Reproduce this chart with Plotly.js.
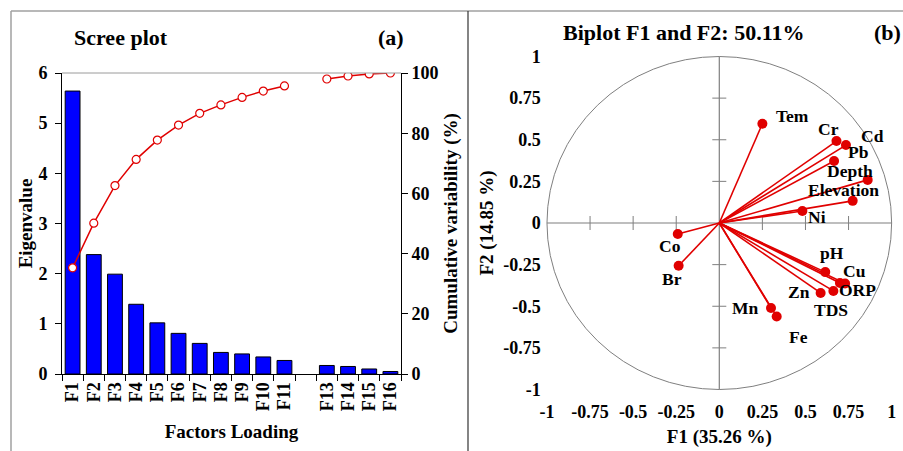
<!DOCTYPE html>
<html>
<head>
<meta charset="utf-8">
<script src="https://cdn.plot.ly/plotly-3.0.1.min.js"></script>
<style>html,body{margin:0;padding:0;background:#fff;}#chart{width:903px;height:451px;}</style>
</head>
<body>
<div id="chart"></div>
<script>
// ---- Data: scree plot ----
const factors = ['F1','F2','F3','F4','F5','F6','F7','F8','F9','F10','F11','F12','F13','F14','F15','F16'];
const factorLabels = ['F1','F2','F3','F4','F5','F6','F7','F8','F9','F10','F11','','F13','F14','F15','F16'];
const eigenvalues = [5.64, 2.38, 1.99, 1.39, 1.02, 0.81, 0.61, 0.43, 0.40, 0.34, 0.27, null, 0.17, 0.15, 0.10, 0.05];
const cumulative = [35.26, 50.11, 62.6, 71.3, 77.7, 82.7, 86.6, 89.4, 91.9, 94.0, 95.7, null, 98.0, 99.0, 99.7, 100];
const eigTicks = [0, 1, 2, 3, 4, 5, 6];
const cumTicks = [0, 20, 40, 60, 80, 100];

// ---- Data: biplot loadings ----
const variables = ['Tem','Cr','Cd','Pb','Depth','Elevation','Ni','Co','Br','pH','Cu','ORP','Zn','TDS','Mn','Fe'];
const f1Load = [0.25, 0.68, 0.735, 0.666, 0.861, 0.774, 0.482, -0.241, -0.236, 0.615, 0.70, 0.73, 0.588, 0.662, 0.30, 0.333];
const f2Load = [0.596, 0.492, 0.468, 0.372, 0.259, 0.133, 0.072, -0.066, -0.257, -0.295, -0.36, -0.363, -0.42, -0.408, -0.51, -0.562];
const biTicks = [-1, -0.75, -0.5, -0.25, 0, 0.25, 0.5, 0.75, 1];
const biTickText = ['-1', '-0.75', '-0.5', '-0.25', '0', '0.25', '0.5', '0.75', '1'];

// label offsets (pixels) – style only
const labelShift = {
  Tem:[30,8], Cr:[-8,12], Cd:[27,9], Pb:[24,9], Depth:[-18,9], Elevation:[-9,11], Ni:[15,-6],
  Co:[-8,-12], Br:[-7,-13], pH:[7,19], Cu:[15,12], ORP:[12,-7], Zn:[-22,1], TDS:[-2,-19], Mn:[-26,0], Fe:[22,-20]
};

const FONT = 'Liberation Serif, Times New Roman, serif';
const W = 903, H = 451;
const px = v => v / W, py = v => 1 - v / H;

// vectors from origin
const vx = [], vy = [];
f1Load.forEach((x, i) => { vx.push(0, x, null); vy.push(0, f2Load[i], null); });
const innerTicks = biTicks.filter(t => t !== 0 && Math.abs(t) !== 1);

const traces = [
  { type: 'bar', x: factors, y: eigenvalues, xaxis: 'x', yaxis: 'y', width: 0.7,
    marker: { color: '#0000FF', line: { color: '#000', width: 1 } }, hoverinfo: 'x+y' },
  { type: 'scatter', mode: 'lines+markers', x: factors, y: cumulative, xaxis: 'x', yaxis: 'y2',
    line: { color: '#E00000', width: 1.5 },
    marker: { symbol: 'circle', size: 8, color: '#fff', line: { color: '#E00000', width: 1.2 } } },
  // crossing-axis tick marks
  { type: 'scatter', mode: 'markers', x: innerTicks, y: innerTicks.map(() => 0), xaxis: 'x2', yaxis: 'y3',
    marker: { symbol: 'line-ns', size: 10, line: { color: '#7f7f7f', width: 1 } }, hoverinfo: 'skip' },
  { type: 'scatter', mode: 'markers', x: innerTicks.map(() => 0), y: innerTicks, xaxis: 'x2', yaxis: 'y3',
    marker: { symbol: 'line-ew', size: 10, line: { color: '#7f7f7f', width: 1 } }, hoverinfo: 'skip' },
  { type: 'scatter', mode: 'lines', x: vx, y: vy, xaxis: 'x2', yaxis: 'y3',
    line: { color: '#E00000', width: 1.6 }, hoverinfo: 'skip' },
  { type: 'scatter', mode: 'markers', x: f1Load, y: f2Load, text: variables, xaxis: 'x2', yaxis: 'y3',
    marker: { color: '#E00000', size: 10 }, hoverinfo: 'text' }
];

const tickFont = { family: FONT, size: 18, color: '#000', weight: 'bold' };
const titleFont = { family: FONT, size: 19, color: '#000', weight: 'bold' };
const headFont = { family: FONT, size: 22, color: '#000', weight: 'bold' };

const annotations = [
  { xref: 'paper', yref: 'paper', x: px(121), y: py(38), text: 'Scree plot', showarrow: false,
    xanchor: 'center', yanchor: 'middle', font: headFont },
  { xref: 'paper', yref: 'paper', x: px(391), y: py(38), text: '(a)', showarrow: false,
    xanchor: 'center', yanchor: 'middle', font: headFont },
  { xref: 'paper', yref: 'paper', x: px(683), y: py(33), text: 'Biplot F1 and F2: 50.11%', showarrow: false,
    xanchor: 'center', yanchor: 'middle', font: headFont },
  { xref: 'paper', yref: 'paper', x: px(887), y: py(33), text: '(b)', showarrow: false,
    xanchor: 'center', yanchor: 'middle', font: headFont }
];
variables.forEach((v, i) => {
  const s = labelShift[v] || [0, 0];
  annotations.push({ xref: 'x2', yref: 'y3', x: f1Load[i], y: f2Load[i], text: v, showarrow: false,
    xanchor: 'center', yanchor: 'middle',
    xshift: s[0], yshift: s[1], font: { family: FONT, size: 17.5, color: '#000', weight: 'bold' } });
});

const layout = {
  width: W, height: H, margin: { l: 0, r: 0, t: 0, b: 0 },
  paper_bgcolor: '#fff', plot_bgcolor: 'rgba(0,0,0,0)', showlegend: false, bargap: 0.3,
  font: { family: FONT, color: '#000' },
  xaxis: { domain: [px(62), px(401)], type: 'category', range: [-0.5, 15.5], tickvals: factors, ticktext: factorLabels,
    tickangle: -90, tickfont: tickFont, ticks: 'outside', ticklen: 6, tickson: 'boundaries', tickcolor: '#000',
    showline: true, linecolor: '#000', linewidth: 1, showgrid: false, zeroline: false, anchor: 'y',
    title: { text: 'Factors Loading', font: titleFont, standoff: 14 } },
  yaxis: { domain: [py(374), py(73)], range: [0, 6], tickvals: eigTicks, tickfont: tickFont,
    ticks: 'outside', ticklen: 6, tickcolor: '#000', showline: true, linecolor: '#000', showgrid: false,
    ticklabelstandoff: 4,
    zeroline: false, anchor: 'x', title: { text: 'Eigenvalue', font: titleFont, standoff: 0 } },
  yaxis2: { overlaying: 'y', side: 'right', anchor: 'x', range: [0, 100], tickvals: cumTicks, tickfont: tickFont,
    ticks: 'outside', ticklen: 6, tickcolor: '#000', showline: true, linecolor: '#000', showgrid: false,
    zeroline: false, title: { text: 'Cumulative variability (%)', font: titleFont, standoff: 6 } },
  xaxis2: { domain: [px(541.8), px(896.8)], range: [-1.03, 1.03], tickvals: biTicks, ticktext: biTickText,
    tickfont: tickFont, ticks: '', showline: false, showgrid: false, zeroline: false, anchor: 'y3',
    ticklabelstandoff: 4,
    title: { text: 'F1 (35.26 %)', font: titleFont, standoff: 9 } },
  yaxis3: { domain: [py(394.5), py(51.5)], range: [-1.03, 1.03], tickvals: biTicks, ticktext: biTickText,
    tickfont: tickFont, ticks: '', showline: false, showgrid: false, zeroline: false, anchor: 'x2',
    title: { text: 'F2 (14.85 %)', font: titleFont, standoff: 4 } },
  shapes: [
    { type: 'line', xref: 'paper', yref: 'paper', x0: px(62), x1: px(401), y0: py(73), y1: py(73),
      line: { color: '#9a9a9a', width: 1 } },
    { type: 'line', xref: 'paper', yref: 'paper', x0: px(11), x1: 1, y0: py(11), y1: py(11),
      line: { color: '#a0a0a0', width: 1.5 } },
    { type: 'line', xref: 'paper', yref: 'paper', x0: px(11), x1: px(11), y0: 0, y1: py(11),
      line: { color: '#a0a0a0', width: 1.5 } },
    { type: 'line', xref: 'paper', yref: 'paper', x0: px(468), x1: px(468), y0: 0, y1: py(11),
      line: { color: '#333', width: 1.2 } },
    { type: 'circle', xref: 'x2', yref: 'y3', x0: -1, x1: 1, y0: -1, y1: 1,
      line: { color: '#7f7f7f', width: 1 }, layer: 'below' },
    { type: 'line', xref: 'x2', yref: 'y3', x0: -1, x1: 1, y0: 0, y1: 0,
      line: { color: '#7f7f7f', width: 1.2 }, layer: 'below' },
    { type: 'line', xref: 'x2', yref: 'y3', x0: 0, x1: 0, y0: -1, y1: 1,
      line: { color: '#7f7f7f', width: 1.2 }, layer: 'below' }
  ],
  annotations: annotations
};

Plotly.newPlot('chart', traces, layout, { displayModeBar: false, staticPlot: true });
</script>
</body>
</html>
